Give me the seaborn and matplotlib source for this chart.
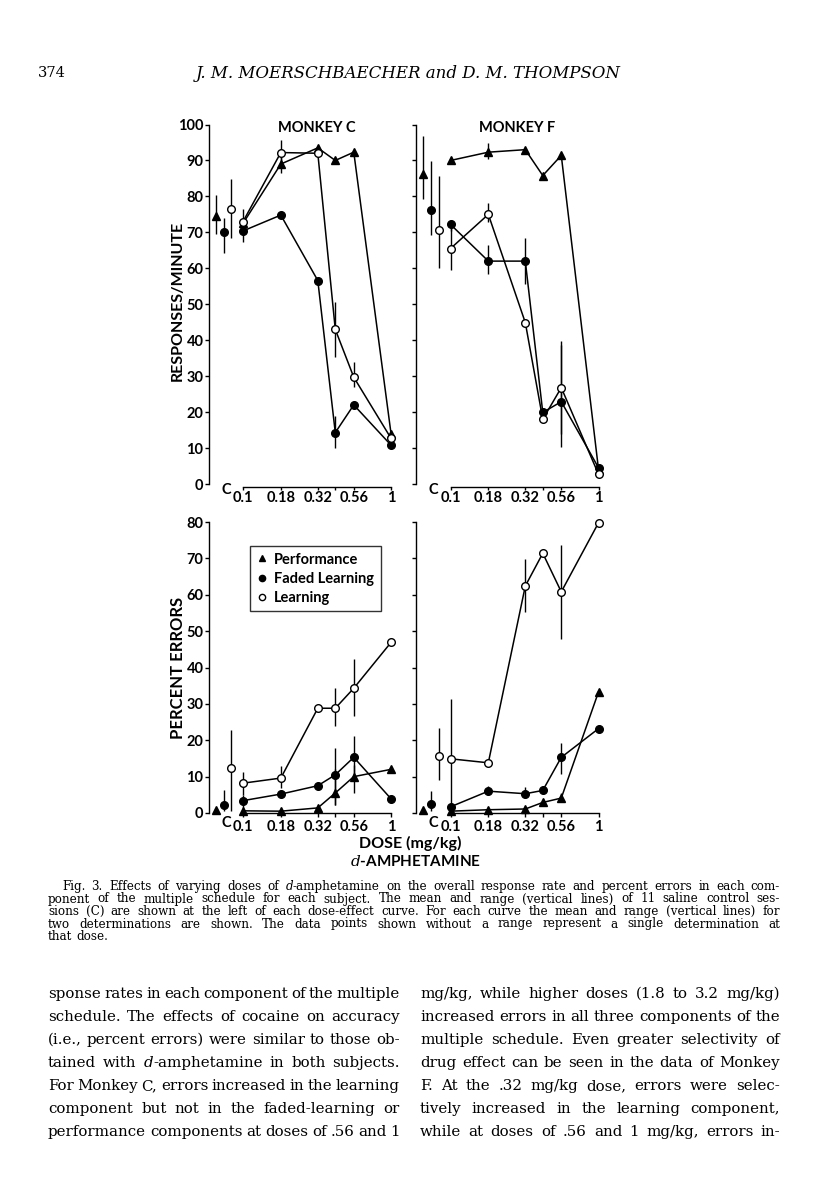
import numpy as np
import pandas as pd
import matplotlib
matplotlib.use('Agg')
import matplotlib.pyplot as plt
from matplotlib.lines import Line2D
from matplotlib.ticker import NullLocator
import seaborn as sns

sns.set_theme(style='ticks')
plt.rcParams['font.family'] = ['Lato', 'DejaVu Sans']
plt.rcParams['text.color'] = 'black'
plt.rcParams['axes.labelcolor'] = 'black'
plt.rcParams['xtick.color'] = 'black'
plt.rcParams['ytick.color'] = 'black'
plt.rcParams['mathtext.fontset'] = 'custom'
plt.rcParams['mathtext.it'] = 'DejaVu Serif:italic'
plt.rcParams['mathtext.rm'] = 'DejaVu Serif'

# doses in mg/kg (0.42 has a tick but no label)
doses = [0.1, 0.18, 0.32, 0.42, 0.56, 1.0]
tick_labels = ['0.1', '0.18', '0.32', '', '0.56', '1']
components = ['Performance', 'Faded Learning', 'Learning']

# ---- Monkey C, responses/minute
c_rate_perf = [72.5, 89, 93.5, 90, 92.3, 14]
c_rate_faded = [70.4, 74.8, 56.6, 14.3, 22, 10.8]
c_rate_learn = [73, 92.2, 92, 43, 29.7, 12.7]
c_rate_perf_rng = [None, (86.5, 91), None, None, None, None]
c_rate_faded_rng = [(67.4, 76.6), None, None, (10, 19), None, None]
c_rate_learn_rng = [None, (88, 95.8), None, (35.3, 50.5), (26.9, 33.8), None]
c_rate_ctrl = [74.5, 70.2, 76.5]
c_rate_ctrl_rng = [(69.5, 80.5), (64.2, 73.9), (68.3, 84.8)]

# ---- Monkey F, responses/minute
f_rate_perf = [90, 92.3, 93, 85.8, 91.4, 4]
f_rate_faded = [72.2, 62, 62, 19.9, 22.9, 4.5]
f_rate_learn = [65.5, 75, 44.9, 18, 26.8, 2.7]
f_rate_perf_rng = [None, (90.5, 94.8), None, None, None, None]
f_rate_faded_rng = [(70.5, 73.5), (58.3, 66.4), (55.7, 68.4), None, (10.4, 38.8), None]
f_rate_learn_rng = [(59.4, 72.4), (73, 78.2), None, None, (13.8, 39.7), None]
f_rate_ctrl = [86.3, 76.1, 70.7]
f_rate_ctrl_rng = [(79.2, 96.9), (69.4, 89.8), (60.1, 85.8)]

# ---- Monkey C, percent errors
c_err_perf = [0.6, 0.5, 1.4, 5.5, 10, 12]
c_err_faded = [3.4, 5.2, 7.5, 10.5, 15.3, 3.9]
c_err_learn = [8.2, 9.6, 28.8, 28.8, 34.3, 46.9]
c_err_perf_rng = [None, None, None, (2.3, 12), (5.5, 13.3), None]
c_err_faded_rng = [(1, 5), None, None, (2.3, 18), (8.7, 21.3), None]
c_err_learn_rng = [(5, 11.4), (7, 12.8), None, (24, 34.5), (26.7, 42.3), None]
c_err_ctrl = [0.7, 2.3, 12.4]
c_err_ctrl_rng = [None, (0.5, 6.4), (0.5, 22.9)]

# ---- Monkey F, percent errors
f_err_perf = [0.5, 0.9, 1.1, 2.9, 4.1, 33.3]
f_err_faded = [1.7, 6, 5.3, 6.2, 15.3, 23.2]
f_err_learn = [14.9, 13.8, 62.4, 71.4, 60.8, 79.8]
f_err_perf_rng = [None, None, None, None, (3, 5.5), None]
f_err_faded_rng = [None, (5, 7.5), (4, 7.2), None, (10.8, 19.3), None]
f_err_learn_rng = [(0, 31.4), None, (55.3, 69.7), None, (47.9, 73.6), None]
f_err_ctrl = [0.7, 2.6, 15.8]
f_err_ctrl_rng = [None, (0.5, 6.1), (9.2, 23.4)]

# control (saline) points sit left of the 0.1 dose, offset in decades
ctrl_offsets = [-0.185, -0.13, -0.078]
c_label_offset = -0.115

styles = {
    'Performance': dict(marker='^', mfc='black', ms=6),
    'Faded Learning': dict(marker='o', mfc='black', ms=5.5),
    'Learning': dict(marker='o', mfc='white', ms=5.5),
}

W, H = 816, 1200
fig = plt.figure(figsize=(W / 100, H / 100), dpi=100)
fig.patch.set_facecolor('white')


def draw_panel(ax, series, ranges, ctrl, ctrl_rng, ymax, top_row):
    ax.set_xscale('log')
    for comp, vals, rng, cv, cr, off in zip(components, series, ranges, ctrl, ctrl_rng, ctrl_offsets):
        st = styles[comp]
        df = pd.DataFrame({'dose': doses, 'value': vals})
        sns.lineplot(data=df, x='dose', y='value', ax=ax, color='black', lw=1.1,
                     marker=st['marker'], ms=st['ms'], markerfacecolor=st['mfc'],
                     markeredgecolor='black', markeredgewidth=1.0, clip_on=False, zorder=3)
        for d, r in zip(doses, rng):
            if r is not None:
                ax.vlines(d, r[0], r[1], color='black', lw=1.0, zorder=2, clip_on=False)
        cx = 0.1 * 10 ** off
        if cr is not None:
            ax.vlines(cx, cr[0], cr[1], color='black', lw=1.0, zorder=2, clip_on=False)
        ax.plot([cx], [cv], marker=st['marker'], ms=st['ms'], mfc=st['mfc'], mec='black',
                mew=1.0, ls='none', clip_on=False, zorder=4)
    ax.set_xlim(10 ** -1.23, 10 ** 0.02)
    ax.set_ylim(0, ymax)
    ax.set_xticks(doses)
    ax.set_xticklabels(tick_labels)
    ax.xaxis.set_minor_locator(NullLocator())
    ax.set_yticks(np.arange(0, ymax + 1, 10))
    ax.set_xlabel('')
    ax.set_ylabel('')
    ax.set_facecolor('none')
    for s in ['top', 'right']:
        ax.spines[s].set_visible(False)
    for s in ['left', 'bottom']:
        ax.spines[s].set_linewidth(1.0)
        ax.spines[s].set_color('black')
    ax.spines['bottom'].set_bounds(0.1, 1.0)
    ax.spines['left'].set_bounds(0, ymax)
    if top_row:
        ax.spines['bottom'].set_position(('outward', 2))
        ax.tick_params(axis='x', direction='out', length=2.5, width=1, pad=0.5,
                       labelsize=10.5, colors='black')
        c_dy = -4
    else:
        ax.tick_params(axis='x', direction='out', length=3, width=1, pad=2,
                       labelsize=10.5, colors='black')
        c_dy = -7
    ax.tick_params(axis='y', direction='out', length=3, width=1, pad=1,
                   labelsize=10.5, colors='black')
    for lab in ax.get_xticklabels() + ax.get_yticklabels():
        lab.set_fontweight('bold')
    ax.annotate('C', xy=(0.1 * 10 ** c_label_offset, 0), xycoords=('data', 'axes fraction'),
                xytext=(0, c_dy), textcoords='offset points', ha='center', va='center',
                fontsize=10.5, fontweight='bold', annotation_clip=False)


top_h = 359.5 / H
bot_h = 291 / H
aw = 185 / W
ax_cr = fig.add_axes([209 / W, 1 - 484 / H, aw, top_h])
ax_fr = fig.add_axes([416.5 / W, 1 - 484 / H, aw, top_h])
ax_ce = fig.add_axes([209 / W, 1 - 813 / H, aw, bot_h])
ax_fe = fig.add_axes([416.5 / W, 1 - 813 / H, aw, bot_h])

draw_panel(ax_cr, [c_rate_perf, c_rate_faded, c_rate_learn],
           [c_rate_perf_rng, c_rate_faded_rng, c_rate_learn_rng], c_rate_ctrl, c_rate_ctrl_rng, 100, True)
draw_panel(ax_fr, [f_rate_perf, f_rate_faded, f_rate_learn],
           [f_rate_perf_rng, f_rate_faded_rng, f_rate_learn_rng], f_rate_ctrl, f_rate_ctrl_rng, 100, True)
draw_panel(ax_ce, [c_err_perf, c_err_faded, c_err_learn],
           [c_err_perf_rng, c_err_faded_rng, c_err_learn_rng], c_err_ctrl, c_err_ctrl_rng, 80, False)
draw_panel(ax_fe, [f_err_perf, f_err_faded, f_err_learn],
           [f_err_perf_rng, f_err_faded_rng, f_err_learn_rng], f_err_ctrl, f_err_ctrl_rng, 80, False)

# right panels have no y tick labels
ax_fr.tick_params(axis='y', labelleft=False)
ax_fe.tick_params(axis='y', labelleft=False)

# legend
handles = [Line2D([], [], ls='none', marker=styles[c]['marker'], ms=4.5, mfc=styles[c]['mfc'],
                  mec='black', mew=1.0) for c in components]
leg = ax_ce.legend(handles, components, loc='upper left', bbox_to_anchor=(0.222, 0.9175),
                   borderaxespad=0, frameon=True, fancybox=False,
                   prop={'family': 'Lato', 'weight': 'bold', 'size': 10.5},
                   handlelength=0.7, handletextpad=0.5, labelspacing=0.35, borderpad=0.45)
leg.get_frame().set_edgecolor('black')
leg.get_frame().set_linewidth(1.0)
for t in leg.get_texts():
    t.set_color('black')

# figure texts
fig.text(317 / W, 1 - 128 / H, 'MONKEY C', ha='center', va='center', fontsize=10.5, fontweight='bold')
fig.text(517 / W, 1 - 128 / H, 'MONKEY F', ha='center', va='center', fontsize=10.5, fontweight='bold')
fig.text(178 / W, 1 - 301 / H, 'RESPONSES/MINUTE', rotation=90, ha='center', va='center',
         fontsize=11.5, fontweight='bold')
fig.text(178 / W, 1 - 668 / H, 'PERCENT ERRORS', rotation=90, ha='center', va='center',
         fontsize=12, fontweight='bold')
fig.text(410 / W, 1 - 843 / H, 'DOSE (mg/kg)', ha='center', va='center', fontsize=11.5, fontweight='bold')
fig.text(416 / W, 1 - 861 / H, r'$\mathit{d}$-AMPHETAMINE', ha='center', va='center',
         fontsize=11, fontweight='bold')

# page text
serif = 'DejaVu Serif'
fig.text(38 / W, 1 - 73 / H, '374', ha='left', va='center', fontsize=10.5, family=serif)
fig.text(408 / W, 1 - 73 / H, 'J. M. MOERSCHBAECHER and D. M. THOMPSON', ha='center', va='center',
         fontsize=12, family=serif, style='italic')

# words wrapped in _..._ are set in italics
caption = [
    'Fig. 3. Effects of varying doses of _d_-amphetamine on the overall response rate and percent errors in each com-',
    'ponent of the multiple schedule for each subject. The mean and range (vertical lines) of 11 saline control ses-',
    'sions (C) are shown at the left of each dose-effect curve. For each curve the mean and range (vertical lines) for',
    'two determinations are shown. The data points shown without a range represent a single determination at',
    'that dose.',
]
body_left = [
    'sponse rates in each component of the multiple',
    'schedule. The effects of cocaine on accuracy',
    '(i.e., percent errors) were similar to those ob-',
    'tained with _d_-amphetamine in both subjects.',
    'For Monkey C, errors increased in the learning',
    'component but not in the faded-learning or',
    'performance components at doses of .56 and 1',
]
body_right = [
    'mg/kg, while higher doses (1.8 to 3.2 mg/kg)',
    'increased errors in all three components of the',
    'multiple schedule. Even greater selectivity of',
    'drug effect can be seen in the data of Monkey',
    'F. At the .32 mg/kg dose, errors were selec-',
    'tively increased in the learning component,',
    'while at doses of .56 and 1 mg/kg, errors in-',
]

renderer = fig.canvas.get_renderer()


def put_line(text, x0, x1, y, size, justify=True):
    # each word is a list of (artist, width) pieces; '_' toggles italics
    words = []
    for w in text.split(' '):
        pieces = []
        for k, part in enumerate(w.split('_')):
            if not part:
                continue
            a = fig.text(0, 1 - y / H, part, fontsize=size, family=serif, ha='left',
                         va='baseline', style='italic' if k % 2 else 'normal')
            pieces.append((a, a.get_window_extent(renderer).width))
        words.append(pieces)
    widths = [sum(p[1] for p in pcs) for pcs in words]
    if justify and len(words) > 1:
        gap = (x1 - x0 - sum(widths)) / (len(words) - 1)
    else:
        gap = size * 0.3 * 100 / 72
    x = x0
    for pcs, w in zip(words, widths):
        px = x
        for a, pw in pcs:
            a.set_x(px / W)
            px += pw
        x += w + gap


cap_y = [890, 902.5, 915, 927.5, 940]
for i, (line, y) in enumerate(zip(caption, cap_y)):
    put_line(line, 62 if i == 0 else 48, 780, y, 8.6, justify=(i < len(caption) - 1))

for i, (l, r) in enumerate(zip(body_left, body_right)):
    y = 998 + 23 * i
    put_line(l, 48, 400, y, 10.8)
    put_line(r, 420, 780, y, 10.8)

fig.savefig('out.png', dpi=100, facecolor='white')
